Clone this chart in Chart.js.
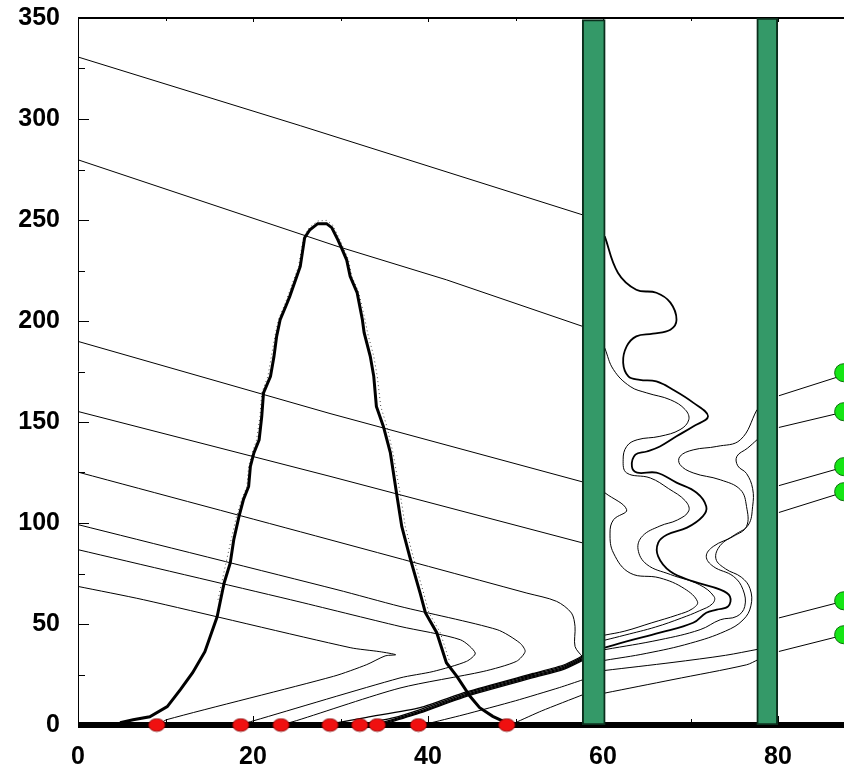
<!DOCTYPE html>
<html>
<head>
<meta charset="utf-8">
<script src="https://cdn.jsdelivr.net/npm/chart.js"></script>
<title>Contours</title>
<style>
  html, body { margin: 0; padding: 0; background: #fff; }
  canvas { display: block; }
</style>
</head>
<body>
<canvas id="chart" width="844" height="768"></canvas>
<script>
// axis ticks
const xTickValues = [0, 20, 40, 60, 80]
const xMinorTicks = [10, 30, 50, 70]
const yTickValues = [0, 50, 100, 150, 200, 250, 300, 350]
const yMinorTicks = [25, 75, 125, 175, 225, 275, 325]

// sources on the ground and receptors on the right edge
const redDotsX = [9.0, 18.6, 23.2, 28.8, 32.2, 34.2, 38.9, 49.0]
const greenDotsY = [174.4, 155.1, 127.9, 115.5, 61.5, 44.7]
const greenDotsX = 87.5

// the two obstacles: centre x, top
const barCenters = [58.94, 78.77]
const barTops = [349.2, 350]

// main profile curve and its dotted companion
const peakCurve = [[4.8,1.1],[6.3,2.6],[8.2,4.1],[10.2,9.1],[11.7,17.5],[13.1,25.9],[14.5,36.3],[15.9,53.6],[16.3,62],[16.7,70.3],[17.4,80.2],[17.8,91.7],[18.4,103.3],[18.9,111.5],[19.5,118.1],[19.7,128],[20.1,134.7],[20.7,141.2],[21.0,152.8],[21.2,164.4],[22.0,172.6],[22.4,182.5],[22.7,192.4],[23.1,200.6],[23.9,208.9],[24.2,212.2],[25.4,227],[25.9,241.2],[26.5,245.2],[27.4,248.2],[28.4,248.2],[29.0,246.2],[29.7,240.2],[30.1,236.3],[30.7,230.3],[31.1,222.1],[31.9,214],[32.5,200.6],[32.7,194.2],[33.4,182.5],[33.8,172.6],[34.1,157.7],[34.9,147.8],[35.7,134.7],[36.4,114.9],[37.0,98.3],[37.9,83.5],[39.1,65.3],[39.7,55.6],[41.0,45.7],[42.1,30.8],[43.3,24.1],[44.8,14.2],[45.9,8.6],[47.4,4.3],[49.0,1.1]]
const peakDotted = [[16.0,62],[16.9,80],[17.5,91.7],[18.1,103],[18.7,111.5],[19.3,118],[19.5,128],[19.9,134.7],[20.4,141],[20.8,152.8],[21.0,164.4],[21.7,172.6],[22.1,182.5],[22.5,192.4],[22.9,200.6],[23.7,209],[25.2,227],[25.8,242],[26.5,246.5],[27.4,249.5],[28.4,249.8],[29.1,247.5],[29.9,240.5],[30.9,230.5],[31.3,222],[32.1,214],[32.8,200.6],[33.1,194],[33.8,182.5],[34.2,172.6],[34.6,157.7],[35.3,147.8],[36.0,134.7],[36.8,115],[37.4,98.3],[38.3,83.5],[39.5,65.3],[40.1,55.6],[41.4,45.7],[42.5,31]]

// contours left of the first obstacle
const leftLine1 = [[0,330.7],[25.4,296.7],[57.7,252.5]]
const leftLine2 = [[0,279.8],[29.6,237],[42.1,220.4],[57.7,197.3]]
const leftLine3 = [[0,189.9],[28.8,154.2],[57.7,120.3]]
const leftLine4 = [[0,155.2],[28.8,123.1],[57.7,90.1]]
const leftLine5 = [[0,125.2],[28.8,91.7],[51.3,65.3],[54.7,61.2],[56.4,55.4],[56.8,48.8],[56.8,38.9],[57.7,33.5]]
const loopB = [[0,99.2],[29.6,67],[36.8,58.7],[47.9,47.2],[50.5,40.6],[51.1,36.4],[50.1,31.5],[46.3,26.5],[36.8,18.3],[25,2.2],[23.6,0.5]]
const loopC = [[0,86.8],[24.3,62],[36.8,48.8],[43.7,42.2],[45.4,35.6],[44.4,31.5],[40.6,26.5],[36.8,23.3],[20,2],[18.8,0.5]]
const loopV = [[0,68.6],[7.5,62],[31.1,38.3],[34.5,36.3],[36.3,34.8],[35.1,34.2],[33,29.9],[29.2,24.1],[10.1,2.6],[9.4,0.5]]

// bundle rising from the ground sources to the obstacle
const bundle1 = [[28.9,0.5],[33,3.8],[39.1,8.6],[44.4,16.4],[52,25.5],[55.5,29.7],[57.7,34.2]]
const bundle2 = [[32.4,0.5],[36,3.5],[39.1,7.6],[44.4,15.8],[52,25],[55.5,29.1],[57.7,33.6]]
const bundle3 = [[34.2,0.5],[39.1,6.9],[44.4,15.2],[52,24.4],[55.5,28.5],[57.7,33]]
const bundle4 = [[34.6,0.5],[39.1,6.4],[44.4,14.7],[52,23.9],[55.5,28],[57.7,32.5]]
const bundle5 = [[35.0,0.5],[39.1,6],[44.4,14.2],[52,23.4],[55.5,27.5],[57.7,32]]
const lowLine1 = [[39.8,0.5],[44,5],[50,12],[55,18.5],[57.7,22.4]]
const lowLine2 = [[49.9,1],[53,7],[57.7,15]]

// contours between the obstacles
const wave1 = [[60.2,241.9],[61.7,223.9],[63.8,215.5],[66.1,214],[67.7,209.1],[68.4,200.6],[67.7,195.7],[65.7,193.7],[63.8,192.4],[62.7,187.4],[62.3,179.4],[62.9,172.6],[64.2,170.9],[66.1,170.1],[68,166],[70.3,159.6],[72,152.8],[70.3,147.8],[68.4,142.9],[66.5,137.9],[65,135.4],[63.7,133.8],[63.3,128],[63.9,124.9],[66.1,124.9],[68.4,120],[70.7,115],[71.8,108.2],[71.4,103.3],[69.6,97.7],[67.3,94.2],[66.3,90.2],[66.3,83.5],[67.7,76],[70.3,71.1],[73.4,67],[74.5,63.7],[74.3,58.7],[73,57.1],[71.8,55.6],[70.3,50.6],[66.5,45.7],[62.7,41.4],[60.2,38.3]]
const wave2 = [[60.2,186.6],[61.2,175.9],[63.1,167.6],[65,164.4],[67.7,161],[69.4,156.1],[69.8,151.1],[68.8,146.2],[66.5,142.9],[63.9,141.2],[62.7,137.9],[62.3,131.3],[62.7,124.8],[65.4,122.3],[67.5,117],[69.4,111],[69.8,106],[68.5,101.5],[66.5,98.5],[64.5,93.5],[64,87],[65,79.5],[67.7,74.5],[71,69.5],[72.7,63.5],[72.5,60],[71,56.5],[69,53],[66,48.5],[62.5,44.5],[60.2,42]]
const wave3 = [[60.2,115],[62.7,106.6],[61.2,101.6],[60.8,95],[61.2,85.1],[63.1,75.2],[66.5,72.8],[69.3,67.5],[70.8,61],[70.2,57.5],[68.5,54.5],[65.5,50.5],[62.5,46.5],[60.2,44.5]]
const nearBarA = [[77.6,141.2],[76.5,137],[75.3,133],[75.4,128.3],[76.4,124.5],[77.1,117],[77.1,108.2],[76.6,99],[75,94],[73.4,88.9],[72.9,82.3],[74,77.3],[75.8,73.2],[76.8,67.5],[76.9,59],[76,52],[74,46.5],[70,40.5],[65,35.5],[60.2,32]]
const nearBarB = [[77.6,156.1],[75.7,141.2],[73,137.9],[70.3,136.2],[68.8,133],[68.8,128.9],[70.3,124.8],[73.4,121.4],[75.7,116.5],[76.4,108.2],[76.4,98.3],[74.9,93.4],[72.6,88.4],[71.8,83.5],[72.6,78.5],[74.9,73.6],[76,67],[76.2,58.7],[75.3,53.8],[73.4,52.1],[71.1,47.2],[66.5,42.2],[60.2,37.3]]
const midLine1 = [[60.2,27],[68,31],[74,34.5],[77.7,37.5]]
const midLine2 = [[60.2,15.8],[68,22.5],[76.4,29.8],[77.7,32.3]]

// lines running to the receptors
const rightLines = [
  [[80.1,163],[87.7,173.5]],
  [[80.1,147.3],[87.7,155.1]],
  [[80.1,118.5],[87.7,127.9]],
  [[80.1,105.2],[87.7,115.5]],
  [[80.1,53],[87.7,61.5]],
  [[80.1,36.4],[87.7,44.7]]
]

const groundLine = [[0,0],[87.6,0]]

// ---------------------------------------------------------------
const FONT = '"Liberation Sans", Arial, sans-serif'

function pts(arr) {
  return arr.map(p => ({ x: p[0], y: p[1] }))
}

function line(arr, extra) {
  return Object.assign({
    type: 'line',
    data: pts(arr),
    borderColor: '#000',
    borderWidth: 1,
    pointRadius: 0,
    tension: 0,
    fill: false,
    order: 3
  }, extra || {})
}

function ellipseStyle() {
  const c = document.createElement('canvas')
  c.width = 19
  c.height = 15
  const g = c.getContext('2d')
  g.beginPath()
  g.ellipse(9.5, 7.5, 8.2, 6.3, 0, 0, Math.PI * 2)
  g.fillStyle = '#f01010'
  g.fill()
  g.lineWidth = 0.8
  g.strokeStyle = '#7a0000'
  g.stroke()
  return c
}

const axisDecor = {
  id: 'axisDecor',
  beforeDatasetsDraw(chart) {
    const { ctx, chartArea: a, scales: { x, y } } = chart
    ctx.save()
    ctx.strokeStyle = '#000'
    ctx.lineWidth = 1
    ctx.beginPath()
    ctx.moveTo(a.left + 0.5, a.top)
    ctx.lineTo(a.left + 0.5, a.bottom)
    yTickValues.forEach(v => {
      const py = Math.round(y.getPixelForValue(v)) + 0.5
      ctx.moveTo(a.left, py)
      ctx.lineTo(a.left + 11, py)
    })
    yMinorTicks.forEach(v => {
      const py = Math.round(y.getPixelForValue(v)) + 0.5
      ctx.moveTo(a.left, py)
      ctx.lineTo(a.left + 7, py)
    })
    xTickValues.forEach(v => {
      const px = Math.round(x.getPixelForValue(v)) + 0.5
      ctx.moveTo(px, a.bottom)
      ctx.lineTo(px, a.bottom - 9)
      ctx.moveTo(px, a.top)
      ctx.lineTo(px, a.top + 4)
    })
    xMinorTicks.forEach(v => {
      const px = Math.round(x.getPixelForValue(v)) + 0.5
      ctx.moveTo(px, a.bottom)
      ctx.lineTo(px, a.bottom - 6)
      ctx.moveTo(px, a.top)
      ctx.lineTo(px, a.top + 3)
    })
    ctx.stroke()
    ctx.lineWidth = 2
    ctx.beginPath()
    ctx.moveTo(a.left, a.top)
    ctx.lineTo(a.right, a.top)
    ctx.stroke()
    ctx.restore()
  }
}

const datasets = []

datasets.push({
  type: 'scatter',
  data: redDotsX.map(v => ({ x: v, y: 0 })),
  pointStyle: ellipseStyle(),
  pointRadius: 9,
  clip: false,
  order: 0
})
datasets.push({
  type: 'scatter',
  data: greenDotsY.map(v => ({ x: greenDotsX, y: v })),
  pointStyle: 'circle',
  pointRadius: 9,
  backgroundColor: '#15e615',
  borderColor: '#0b6b0b',
  borderWidth: 1,
  clip: false,
  order: 0
})
barCenters.forEach((c, i) => {
  datasets.push({
    type: 'bar',
    data: [{ x: c, y: [0, barTops[i]] }],
    barThickness: i === 0 ? 23 : 21,
    backgroundColor: '#349968',
    borderColor: '#0b2e1c',
    borderWidth: 2,
    borderSkipped: false,
    grouped: false,
    order: 1
  })
})
datasets.push(line(groundLine, { borderWidth: 6, clip: false, order: 2 }))

datasets.push(line(peakCurve, { borderWidth: 3 }))
datasets.push(line(peakDotted, { borderWidth: 1, borderDash: [1, 3], borderColor: '#444' }))

;[leftLine1, leftLine2, leftLine3, leftLine4].forEach(l => datasets.push(line(l)))
datasets.push(line(leftLine5, { tension: 0.3 }))
;[loopB, loopC, loopV].forEach(l => datasets.push(line(l, { tension: 0.25 })))
;[bundle1, bundle2, bundle3, bundle4, bundle5].forEach(l => datasets.push(line(l, { tension: 0.2, borderWidth: 1.3 })))
;[lowLine1, lowLine2].forEach(l => datasets.push(line(l, { tension: 0.2 })))
datasets.push(line(wave1, { borderWidth: 1.8, tension: 0.4 }))
;[wave2, wave3, nearBarA, nearBarB].forEach(l => datasets.push(line(l, { tension: 0.4 })))
;[midLine1, midLine2].forEach(l => datasets.push(line(l, { tension: 0.3 })))
rightLines.forEach(l => datasets.push(line(l)))

new Chart(document.getElementById('chart'), {
  type: 'scatter',
  data: { datasets: datasets },
  options: {
    responsive: false,
    animation: false,
    devicePixelRatio: 1,
    layout: { autoPadding: false, padding: { top: 18, right: 0, left: 0, bottom: 0 } },
    plugins: { legend: { display: false }, tooltip: { enabled: false } },
    scales: {
      x: {
        type: 'linear',
        min: 0,
        max: 87.54,
        offset: false,
        grid: { display: false, drawTicks: false },
        border: { display: false },
        afterBuildTicks: s => { s.ticks = xTickValues.map(v => ({ value: v })) },
        afterFit: s => { s.height = 43; s.paddingLeft = 0; s.paddingRight = 0 },
        ticks: {
          color: '#000',
          padding: 17,
          maxRotation: 0,
          font: { family: FONT, size: 25, weight: 'bold' },
          callback: v => String(v)
        }
      },
      y: {
        type: 'linear',
        min: 0,
        max: 350,
        grid: { display: false, drawTicks: false },
        border: { display: false },
        afterBuildTicks: s => { s.ticks = yTickValues.map(v => ({ value: v })) },
        afterFit: s => { s.width = 78; s.paddingTop = 0; s.paddingBottom = 0 },
        ticks: {
          color: '#000',
          padding: 18,
          font: { family: FONT, size: 25, weight: 'bold' },
          callback: v => String(v)
        }
      }
    }
  },
  plugins: [axisDecor]
})
</script>
</body>
</html>
